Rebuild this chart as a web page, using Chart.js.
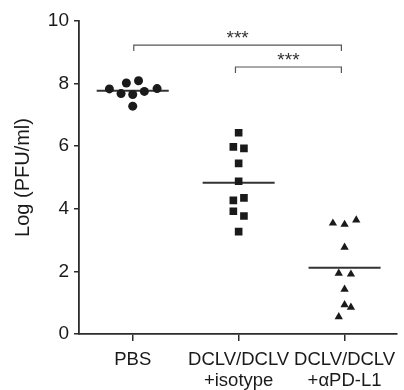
<!DOCTYPE html>
<html>
<head>
<meta charset="utf-8">
<script src="https://cdn.jsdelivr.net/npm/chart.js@4"></script>
<style>
  html, body { margin: 0; padding: 0; background: #fff; }
  .chart-container { position: relative; width: 404px; height: 390px; }
</style>
</head>
<body>
<div class="chart-container"><canvas id="pfuChart"></canvas></div>
<script>
// groups on the x axis (positions 1, 2, 3)
const groupLabels = ["PBS", ["DCLV/DCLV", "+isotype"], ["DCLV/DCLV", "+αPD-L1"]];
const yTicks = [0, 2, 4, 6, 8, 10];

// individual animals, x = group position with the jitter seen in the picture
const pbsX = [0.78, 0.89, 0.94, 1.0, 1.055, 1.11, 1.23, 1.0];
const pbsY = [7.83, 7.68, 8.02, 7.65, 8.09, 7.75, 7.84, 7.28];

const isotypeX = [2.0, 1.95, 2.05, 2.0, 2.0, 1.95, 2.05, 1.95, 2.05, 2.0];
const isotypeY = [6.43, 5.98, 5.93, 5.45, 4.88, 4.27, 4.35, 3.92, 3.77, 3.27];

const pdl1X = [2.89, 3.0, 3.11, 3.0, 2.945, 3.06, 3.0, 3.0, 3.06, 2.945];
const pdl1Y = [3.54, 3.5, 3.64, 2.77, 1.94, 1.91, 1.43, 0.93, 0.85, 0.55];

const groupMeans = [7.77, 4.83, 2.12];

// significance brackets
const bracketFrom = [1.01, 1.97];
const bracketTo = [2.97, 2.97];
const bracketLevel = [9.23, 8.53];
const bracketText = ["***", "***"];

const ink = "#1a1a1a";
const axisColor = "#2b2b2b";
const font = "'Liberation Sans', Arial, Helvetica, sans-serif";

const toPoints = (xs, ys) => xs.map((x, i) => ({ x: x, y: ys[i] }));

const meanLine = (i) => ({
  data: [
    { x: i + 1 - 0.34, y: groupMeans[i] },
    { x: i + 1 + 0.34, y: groupMeans[i] },
  ],
  showLine: true,
  borderColor: "#333",
  borderWidth: 2,
  pointRadius: 0,
});

const bracketLine = (i) => ({
  data: [
    { x: bracketFrom[i], y: bracketLevel[i] - 0.19 },
    { x: bracketFrom[i], y: bracketLevel[i] },
    { x: bracketTo[i], y: bracketLevel[i] },
    { x: bracketTo[i], y: bracketLevel[i] - 0.19 },
  ],
  showLine: true,
  borderColor: "#555",
  borderWidth: 1.2,
  pointRadius: 0,
});

const markers = (xs, ys, style, radius) => ({
  data: toPoints(xs, ys),
  pointStyle: style,
  pointRadius: radius,
  pointBackgroundColor: ink,
  pointBorderColor: ink,
  pointBorderWidth: 0,
  showLine: false,
});

const starLabels = {
  id: "starLabels",
  afterDatasetsDraw(chart) {
    const ctx = chart.ctx;
    const x = chart.scales.x;
    const y = chart.scales.y;
    ctx.save();
    ctx.font = "19px " + font;
    ctx.fillStyle = "#333";
    ctx.textAlign = "center";
    ctx.textBaseline = "alphabetic";
    bracketText.forEach((t, i) => {
      const cx = x.getPixelForValue((bracketFrom[i] + bracketTo[i]) / 2);
      ctx.fillText(t, cx, y.getPixelForValue(bracketLevel[i]) - 1);
    });
    ctx.restore();
  },
};

const ctx = document.getElementById("pfuChart").getContext("2d");

new Chart(ctx, {
  type: "scatter",
  data: {
    datasets: [
      markers(pbsX, pbsY, "circle", 4.5),
      markers(isotypeX, isotypeY, "rect", 5.4),
      markers(pdl1X, pdl1Y, "triangle", 4.8),
      meanLine(0),
      meanLine(1),
      meanLine(2),
      bracketLine(0),
      bracketLine(1),
    ],
  },
  options: {
    responsive: true,
    maintainAspectRatio: false,
    animation: false,
    layout: { padding: { top: 21, right: 0, left: 0, bottom: 0 } },
    plugins: {
      legend: { display: false },
      tooltip: { enabled: false },
    },
    scales: {
      x: {
        type: "linear",
        min: 0.493,
        max: 3.488,
        afterBuildTicks: (scale) => {
          scale.ticks = [{ value: 1 }, { value: 2 }, { value: 3 }];
        },
        afterFit: (scale) => {
          scale.height = 56;
        },
        ticks: {
          autoSkip: false,
          maxRotation: 0,
          padding: 8,
          color: ink,
          font: { family: font, size: 18.5, lineHeight: 1.15 },
          callback: (value) => groupLabels[value - 1],
        },
        grid: {
          drawOnChartArea: false,
          drawTicks: true,
          tickLength: 7,
          color: axisColor,
          lineWidth: 1.5,
        },
        border: { display: true, color: axisColor, width: 1.8 },
      },
      y: {
        min: 0,
        max: 10,
        afterBuildTicks: (scale) => {
          scale.ticks = yTicks.map((v) => ({ value: v }));
        },
        afterFit: (scale) => {
          scale.width = 79;
        },
        ticks: {
          padding: 5,
          color: ink,
          font: { family: font, size: 19 },
        },
        grid: {
          drawOnChartArea: false,
          drawTicks: true,
          tickLength: 5,
          color: axisColor,
          lineWidth: 1.5,
        },
        border: { display: true, color: axisColor, width: 1.8 },
        title: {
          display: true,
          text: "Log (PFU/ml)",
          color: ink,
          font: { family: font, size: 20 },
          padding: { top: 11, bottom: 0 },
        },
      },
    },
  },
  plugins: [starLabels],
});
</script>
</body>
</html>
